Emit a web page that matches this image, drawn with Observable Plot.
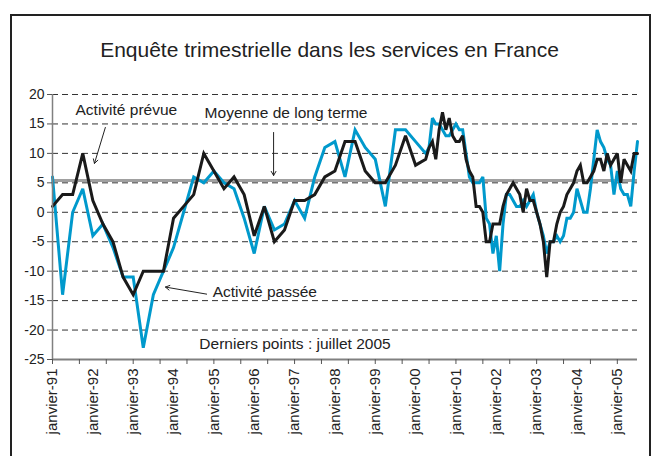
<!DOCTYPE html>
<html><head><meta charset="utf-8">
<script src="https://cdn.jsdelivr.net/npm/d3@7"></script>
<script src="https://cdn.jsdelivr.net/npm/@observablehq/plot@0.6"></script>
<style>
html,body{margin:0;padding:0;background:#fff;}
body{width:659px;height:456px;overflow:hidden;position:relative;font-family:"Liberation Sans",Arial,sans-serif;}
#frame{position:absolute;left:10px;top:14px;width:637px;height:480px;border:2px solid #222;}
#title{position:absolute;left:0;top:39px;width:659px;text-align:center;font-size:21px;line-height:21px;color:#222;}
#chart{position:absolute;left:0;top:0;}
</style></head><body>
<div id="frame"></div>
<div id="title">Enquête trimestrielle dans les services en France</div>
<div id="chart"></div>
<script>
// Dates (quarterly until April 2000, monthly afterwards)
const dates = [
"1991-01","1991-04","1991-07","1991-10","1992-01","1992-04","1992-07","1992-10",
"1993-01","1993-04","1993-07","1993-10","1994-01","1994-04","1994-07","1994-10",
"1995-01","1995-04","1995-07","1995-10","1996-01","1996-04","1996-07","1996-10",
"1997-01","1997-04","1997-07","1997-10","1998-01","1998-04","1998-07","1998-10",
"1999-01","1999-04","1999-07","1999-10","2000-01","2000-04",
"2000-05","2000-06","2000-07","2000-08","2000-09","2000-10","2000-11","2000-12",
"2001-01","2001-02","2001-03","2001-04","2001-05","2001-06","2001-07","2001-08","2001-09","2001-10","2001-11","2001-12",
"2002-01","2002-02","2002-03","2002-04","2002-05","2002-06","2002-07","2002-08","2002-09","2002-10","2002-11","2002-12",
"2003-01","2003-02","2003-03","2003-04","2003-05","2003-06","2003-07","2003-08","2003-09","2003-10","2003-11","2003-12",
"2004-01","2004-02","2004-03","2004-04","2004-05","2004-06","2004-07","2004-08","2004-09","2004-10","2004-11","2004-12",
"2005-01","2005-02","2005-03","2005-04","2005-05","2005-06","2005-07"
];
// Activité passée (blue)
const passee = [
6,-14,0,4,-4,-2,-6,-11,
-11,-23,-14,-10,-6,0,6,5,
7,5,4,-1,-7,1,-3,-2,
2,-1,6,11,12,6,14,11,
9,1,14,14,12,10,
11,16,15,15,14,13,13,14,
15,14,14,10,6,5,5,5,6,-1,-2,-7,
-4,-10,-2,3,3,2,1,1,2,1,2,3,
0,-2,-4,-7,-5,-5,-4,-5,-4,-1,-1,0,
4,2,0,0,4,9,14,12,11,9,8,3,
7,4,3,3,1,7,12
];
// Activité prévue (black)
const prevue = [
1,3,3,10,2,-2,-5,-11,
-14,-10,-10,-10,-1,1,3,10,
7,4,6,3,-4,1,-5,-3,
2,2,3,6,7,12,12,7,
5,5,8,13,8,9,
11,12,9,14,17,14,16,13,
12,12,13,9,7,6,1,1,0,-5,-5,-2,
-2,-2,1,3,4,5,4,3,0,4,2,2,
0,-2,-5,-11,-5,-5,-2,0,1,3,4,5,
7,8,5,5,6,7,9,9,7,10,8,9,
10,5,9,8,7,10,10
];
const moyenne = [5.4];
const yTicks = [20,15,10,5,0,-5,-10,-15,-20,-25];
const gridValues = [20,15,10,5,0,-5,-10,-15,-20];
const xLabelYears = [1991,1992,1993,1994,1995,1996,1997,1998,1999,2000,2001,2002,2003,2004,2005];
const xLabels = ["janvier-91","janvier-92","janvier-93","janvier-94","janvier-95","janvier-96","janvier-97","janvier-98","janvier-99","janvier-00","janvier-01","janvier-02","janvier-03","janvier-04","janvier-05"];
const xTickMarks = ["1991-01","1991-09","1992-05","1993-01","1993-09","1994-05","1995-01","1995-09","1996-05","1997-01","1997-09","1998-05","1999-01","1999-09","2000-05","2001-01","2001-09","2002-05","2003-01","2003-09","2004-05","2005-01"];
const xDomain = ["1991-01","2005-07"];
// annotations (decimal year, value)
const noteText = ["Activité prévue","Moyenne de long terme","Activité passée","Derniers points : juillet 2005"];
const noteX = [1991.57, 1994.77, 1994.97, 1994.64];
const noteY = [17.3, 16.9, -13.6, -22.4];
const arrowX1 = [1992.31, 1996.48, 1994.82];
const arrowY1 = [14.4, 13.55, -13.9];
const arrowX2 = [1992.04, 1996.48, 1993.80];
const arrowY2 = [8.3, 6.25, -12.7];

const toYear = s => +s.slice(0,4) + (+s.slice(5,7) - 1) / 12;
const rows = dates.map((d, i) => ({t: toYear(d), passee: passee[i], prevue: prevue[i]}));
const notes = noteText.map((text, i) => ({text, x: noteX[i], y: noteY[i]}));
const arrows = arrowX1.map((x1, i) => ({x1, y1: arrowY1[i], x2: arrowX2[i], y2: arrowY2[i]}));

const chart = Plot.plot({
  width: 659, height: 456,
  marginTop: 94, marginBottom: 97, marginLeft: 52, marginRight: 22,
  style: {fontFamily: "'Liberation Sans', Arial, sans-serif", color: "#222", background: "transparent", overflow: "visible"},
  x: {type: "linear", domain: xDomain.map(toYear)},
  y: {domain: [-25, 20]},
  marks: [
    Plot.ruleY(gridValues, {stroke: "#333", strokeWidth: 1, strokeDasharray: "6,4"}),
    Plot.ruleY(moyenne, {stroke: "#a0a0a0", strokeWidth: 3}),
    Plot.line(rows, {x: "t", y: "passee", stroke: "#0099cc", strokeWidth: 3, strokeLinejoin: "miter", strokeMiterlimit: 3}),
    Plot.line(rows, {x: "t", y: "prevue", stroke: "#1a1a1a", strokeWidth: 3, strokeLinejoin: "miter", strokeMiterlimit: 3}),
    Plot.ruleX([toYear(xDomain[0])], {stroke: "#808080", strokeWidth: 1.5}),
    Plot.ruleY([-25], {stroke: "#808080", strokeWidth: 2}),
    Plot.axisY({ticks: yTicks, tickSize: 5, tickPadding: 3, fontSize: 14, stroke: "#555", tickFormat: d => String(d)}),
    Plot.axisX({ticks: xTickMarks.map(toYear), tickSize: 5, stroke: "#555", tickFormat: () => ""}),
    Plot.axisX({ticks: xLabelYears, tickFormat: d => xLabels[xLabelYears.indexOf(d)], tickRotate: -90, tickSize: 0, tickPadding: 9, fontSize: 15}),
    Plot.text(notes, {x: "x", y: "y", text: "text", textAnchor: "start", fontSize: 15.5, fill: "#222"}),
    Plot.arrow(arrows, {x1: "x1", y1: "y1", x2: "x2", y2: "y2", stroke: "#222", strokeWidth: 1, headLength: 7})
  ]
});
document.getElementById("chart").appendChild(chart);
</script>
</body></html>
